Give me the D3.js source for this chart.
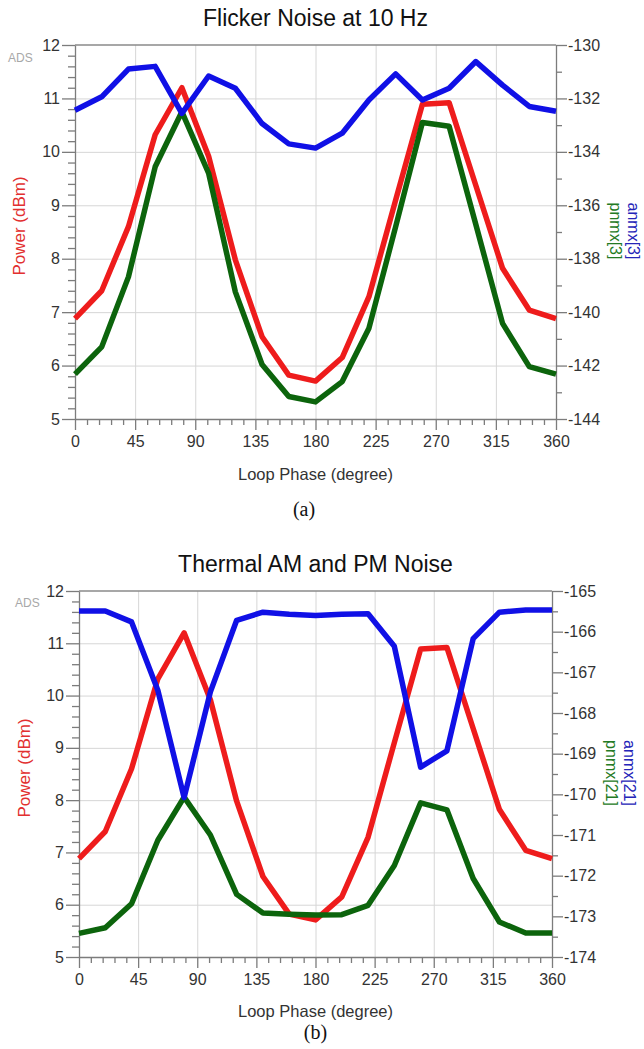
<!DOCTYPE html>
<html>
<head>
<meta charset="utf-8">
<script src="https://cdn.jsdelivr.net/npm/d3@7"></script>
<style>
body { margin: 0; background: #fff; }
svg { display: block; font-family: "Liberation Sans", Arial, sans-serif; }
.grid line { stroke: #d6d6d6; stroke-width: 1; }
.grid path { display: none; }
.axis path, .axis line { stroke: #7c7c7c; stroke-width: 1.3; }
.axis text { fill: #333; font-size: 16px; font-family: "Liberation Sans", Arial, sans-serif; }
.chartTitle { font-size: 23px; fill: #111; }
.xLabel { font-size: 16.5px; fill: #333; }
.tag { font-family: "Liberation Serif", "Times New Roman", serif; font-size: 20px; fill: #111; }
</style>
</head>
<body>
<div id="chart"></div>
<script>

/****************
***** DATA  *****
****************/

// loop phase sweep (degree)
const phase = [0, 20, 40, 60, 80, 100, 120, 140, 160, 180, 200, 220, 240, 260, 280, 300, 320, 340, 360];

// output power, left axis (dBm) - same curve in both panels
const power = [6.88, 7.4, 8.6, 10.32, 11.2, 9.92, 7.98, 6.54, 5.82, 5.71, 6.15, 7.29, 9.1, 10.89, 10.92, 9.37, 7.82, 7.04, 6.88];

// (a) flicker noise at 10 Hz, right axis
const flickerAm = [-132.44, -131.94, -130.9, -130.8, -132.56, -131.16, -131.62, -132.94, -133.7, -133.86, -133.3, -132.06, -131.08, -132.06, -131.62, -130.62, -131.5, -132.3, -132.48];
const flickerPm = [-142.32, -141.3, -138.68, -134.56, -132.5, -134.8, -139.24, -141.96, -143.16, -143.36, -142.6, -140.6, -136.8, -132.9, -133.04, -136.72, -140.42, -142.04, -142.32];

// (b) thermal AM and PM noise, right axis
const thermalAm = [-165.49, -165.49, -165.76, -167.44, -170.08, -167.48, -165.72, -165.52, -165.57, -165.6, -165.57, -165.56, -166.36, -169.33, -168.93, -166.17, -165.52, -165.47, -165.47];
const thermalPm = [-173.42, -173.28, -172.69, -171.13, -170.07, -171.0, -172.46, -172.92, -172.95, -172.97, -172.96, -172.73, -171.75, -170.21, -170.38, -172.07, -173.14, -173.41, -173.41];

// tick labels
const phaseTicks = [0, 45, 90, 135, 180, 225, 270, 315, 360];
const powerTicks = [5, 6, 7, 8, 9, 10, 11, 12];
const flickerTicks = [-144, -142, -140, -138, -136, -134, -132, -130];
const thermalTicks = [-174, -173, -172, -171, -170, -169, -168, -167, -166, -165];

const width = 644;
const height = 1049;

const svg = d3.select("#chart")
    .append("svg")
    .attr("width", width)
    .attr("height", height);

const red = "#ee1c1c";
const green = "#0c640c";
const blue = "#1010e6";

/*******************
***** PANELS *******
*******************/

const panels = [
    {
        box: {left: 75, right: 556, top: 45, bottom: 419},
        title: "Flicker Noise at 10 Hz", titleY: 26,
        rightTicks: flickerTicks, rightStep: 1,
        am: flickerAm, pm: flickerPm,
        amLabel: "anmx[3]", pmLabel: "pnmx[3]",
        amX: 628, pmX: 610, sideY: 231,
        powerX: 25, powerY: 226,
        adsX: 8, adsY: 62,
        xLabelY: 480,
        tag: "(a)", tagX: 304, tagY: 516
    },
    {
        box: {left: 79, right: 552, top: 591, bottom: 957},
        title: "Thermal AM and PM Noise", titleY: 572,
        rightTicks: thermalTicks, rightStep: 0.5,
        am: thermalAm, pm: thermalPm,
        amLabel: "anmx[21]", pmLabel: "pnmx[21]",
        amX: 624, pmX: 606, sideY: 773,
        powerX: 30, powerY: 768,
        adsX: 15, adsY: 607,
        xLabelY: 1017,
        tag: "(b)", tagX: 315.5, tagY: 1039
    }
];

panels.forEach(p => drawPanel(p));

function drawPanel(p) {
    const b = p.box;
    const g = svg.append("g");

    // scales
    const xScale = d3.scaleLinear().domain([0, 360]).range([b.left, b.right]);
    const yScale = d3.scaleLinear().domain([5, 12]).range([b.bottom, b.top]);
    const yRight = d3.scaleLinear()
        .domain(d3.extent(p.rightTicks))
        .range([b.bottom, b.top]);

    // gridlines
    g.append("g")
        .attr("class", "grid")
        .attr("transform", `translate(0, ${b.bottom})`)
        .call(d3.axisBottom(xScale)
            .tickValues(phaseTicks.slice(1, -1))
            .tickSize(-(b.bottom - b.top))
            .tickFormat(""));

    g.append("g")
        .attr("class", "grid")
        .attr("transform", `translate(${b.left}, 0)`)
        .call(d3.axisLeft(yScale)
            .tickValues(powerTicks.slice(1, -1))
            .tickSize(-(b.right - b.left))
            .tickFormat(""));

    // top frame line
    g.append("line")
        .attr("x1", b.left).attr("x2", b.right)
        .attr("y1", b.top).attr("y2", b.top)
        .attr("stroke", "#8a8a8a")
        .attr("stroke-width", 1.3);

    // minor ticks
    const xMinor = d3.range(0, 361, 9).filter(v => v % 45 !== 0);
    const yMinor = d3.range(5, 12.001, 0.2).filter(v => Math.abs(v - Math.round(v)) > 0.01);
    const [rLo, rHi] = d3.extent(p.rightTicks);
    const rMinor = d3.range(rLo, rHi + 0.001, p.rightStep)
        .filter(v => !p.rightTicks.some(t => Math.abs(t - v) < 0.01));

    g.append("g")
        .attr("class", "axis")
        .attr("transform", `translate(0, ${b.bottom})`)
        .call(d3.axisBottom(xScale).tickValues(xMinor).tickSize(6).tickFormat(""))
        .select(".domain").remove();

    g.append("g")
        .attr("class", "axis")
        .attr("transform", `translate(${b.left}, 0)`)
        .call(d3.axisLeft(yScale).tickValues(yMinor).tickSize(7).tickFormat(""))
        .select(".domain").remove();

    g.append("g")
        .attr("class", "axis")
        .attr("transform", `translate(${b.right}, 0)`)
        .call(d3.axisRight(yRight).tickValues(rMinor).tickSize(6).tickFormat(""))
        .select(".domain").remove();

    // major axes
    g.append("g")
        .attr("class", "axis")
        .attr("transform", `translate(0, ${b.bottom})`)
        .call(d3.axisBottom(xScale).tickValues(phaseTicks).tickSize(11).tickPadding(6)
            .tickSizeOuter(0).tickFormat(d3.format("d")));

    g.append("g")
        .attr("class", "axis")
        .attr("transform", `translate(${b.left}, 0)`)
        .call(d3.axisLeft(yScale).tickValues(powerTicks).tickSize(13).tickPadding(2)
            .tickSizeOuter(0).tickFormat(d3.format("d")));

    g.append("g")
        .attr("class", "axis")
        .attr("transform", `translate(${b.right}, 0)`)
        .call(d3.axisRight(yRight).tickValues(p.rightTicks).tickSize(11).tickPadding(1)
            .tickSizeOuter(0).tickFormat(d => String(d)));

    // lines
    const leftLine = d3.line()
        .x((d, i) => xScale(phase[i]))
        .y(d => yScale(d));
    const rightLine = d3.line()
        .x((d, i) => xScale(phase[i]))
        .y(d => yRight(d));

    const series = [
        {values: power, line: leftLine, color: red},
        {values: p.pm, line: rightLine, color: green},
        {values: p.am, line: rightLine, color: blue}
    ];

    g.selectAll(".series")
        .data(series)
        .enter()
        .append("path")
        .attr("class", "series")
        .attr("d", d => d.line(d.values))
        .attr("fill", "none")
        .attr("stroke", d => d.color)
        .attr("stroke-width", 5.5)
        .attr("stroke-linejoin", "round");

    // title
    g.append("text")
        .attr("class", "chartTitle")
        .attr("x", (b.left + b.right) / 2)
        .attr("y", p.titleY)
        .attr("text-anchor", "middle")
        .text(p.title);

    // ADS mark
    g.append("text")
        .attr("x", p.adsX)
        .attr("y", p.adsY)
        .attr("font-size", 12)
        .attr("fill", "#a8a8a8")
        .text("ADS");

    // left axis label
    g.append("text")
        .attr("transform", `translate(${p.powerX}, ${p.powerY}) rotate(-90)`)
        .attr("text-anchor", "middle")
        .attr("font-size", 17)
        .attr("fill", "#e23030")
        .text("Power (dBm)");

    // right axis labels
    g.append("text")
        .attr("transform", `translate(${p.amX}, ${p.sideY}) rotate(90)`)
        .attr("text-anchor", "middle")
        .attr("font-size", 16)
        .attr("fill", "#2424b8")
        .text(p.amLabel);

    g.append("text")
        .attr("transform", `translate(${p.pmX}, ${p.sideY}) rotate(90)`)
        .attr("text-anchor", "middle")
        .attr("font-size", 16)
        .attr("fill", "#247a24")
        .text(p.pmLabel);

    // x label
    g.append("text")
        .attr("class", "xLabel")
        .attr("x", (b.left + b.right) / 2)
        .attr("y", p.xLabelY)
        .attr("text-anchor", "middle")
        .text("Loop Phase (degree)");

    // panel tag
    g.append("text")
        .attr("class", "tag")
        .attr("x", p.tagX)
        .attr("y", p.tagY)
        .attr("text-anchor", "middle")
        .text(p.tag);
}
</script>
</body>
</html>
